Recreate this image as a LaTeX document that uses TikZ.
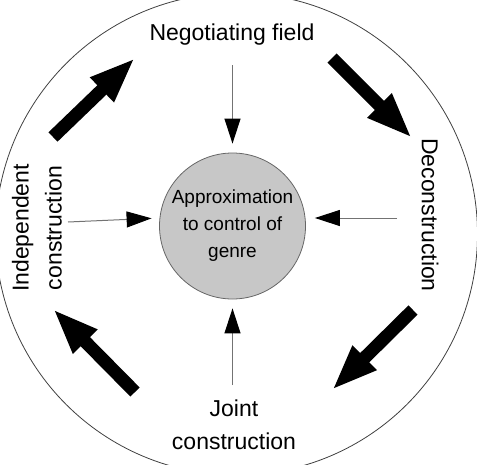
\documentclass[tikz,border=0pt]{standalone}
\usepackage{fontspec}
\setmainfont{Liberation Sans}
\usetikzlibrary{arrows.meta}

\begin{document}
\begin{tikzpicture}[x=1pt,y=-1pt,
    stage/.style={font=\fontsize{23}{33}\selectfont, align=center, inner sep=0pt},
    core/.style={circle, draw=black!60, fill=black!22, line width=0.8pt,
      minimum size=146pt, inner sep=0pt, align=center,
      font=\fontsize{19}{27}\selectfont},
    cycle/.style={line width=13pt, -{Triangle[width=31pt,length=46pt]}},
    feed/.style={draw=black!55, line width=1pt,
      -{Triangle[width=16pt,length=25pt,color=black]}, shorten >=9pt}]
        \useasboundingbox (0,0) rectangle (477,464);
        \clip (0,0) rectangle (477,464);
        \draw [black!75, line width=0.8pt] (236.5,234) circle [radius=241pt];
        \node [core] (c) at (232.5,226) {Approximation\\to control of\\genre};
        \node [stage] (n) at (232,35) {Negotiating field};
        \node [stage, rotate=-90] (d) at (430,215) {Deconstruction};
        \node [stage] (j) at (234,425) {Joint\\construction};
        \node [stage, rotate=90] (i) at (37,228) {Independent\\construction};
        % stages of the cycle
        \coordinate (1) at (53,137);
        \coordinate (2) at (135,58);
        \coordinate (3) at (332,58);
        \coordinate (4) at (412,138);
        \coordinate (5) at (413,310);
        \coordinate (6) at (332,390);
        \coordinate (7) at (135,392);
        \coordinate (8) at (53,309);
        \draw [cycle] (1) to (2);
        \draw [cycle] (3) to (4);
        \draw [cycle] (5) to (6);
        \draw [cycle] (7) to (8);
        % towards the centre
        \coordinate (nt) at (232.5,65);
        \coordinate (dt) at (397,218);
        \coordinate (jt) at (232.5,385);
        \coordinate (it) at (68,222);
        \draw [feed] (nt) to (c);
        \draw [feed] (dt) to (c.east |- dt);
        \draw [feed] (jt) to (c);
        \draw [feed, shorten >=7.5pt] (it) to (c.west |- dt);
\end{tikzpicture}
\end{document}
